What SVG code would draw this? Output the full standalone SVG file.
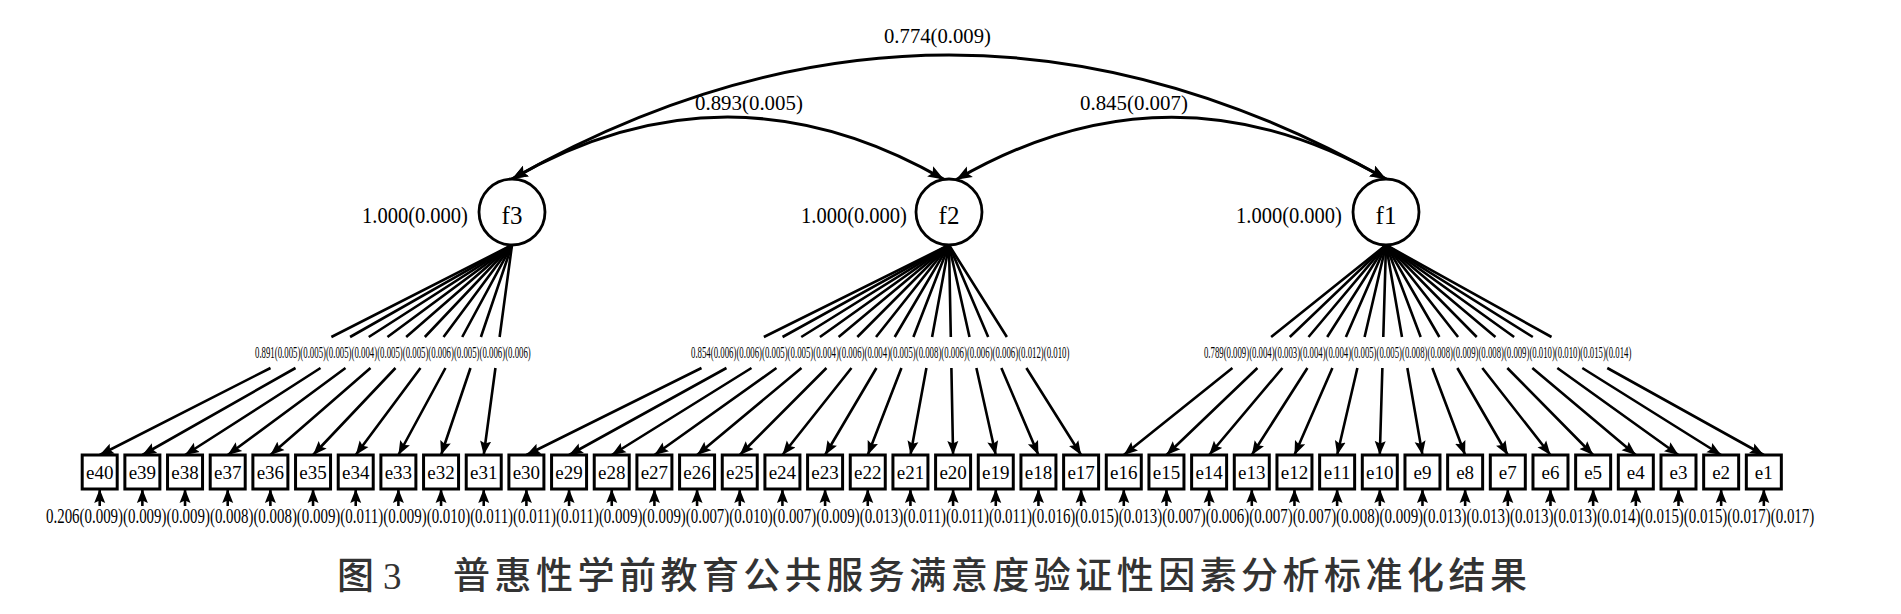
<svg xmlns="http://www.w3.org/2000/svg" width="1901" height="614" viewBox="0 0 1901 614">
<defs>
<style>
.t{font-family:"Liberation Serif","Times New Roman",serif;fill:#000}
.box{fill:#fff;stroke:#000;stroke-width:3}
.fac{fill:#fff;stroke:#000;stroke-width:2.8}
.ld{fill:none;stroke:#000;stroke-width:2.6;marker-end:url(#ah)}
.er{fill:none;stroke:#000;stroke-width:2.6;marker-end:url(#ah)}
.arc{fill:none;stroke:#000;stroke-width:3;marker-start:url(#ah2);marker-end:url(#ah2)}
.el{font-size:19px;text-anchor:middle}
.fl{font-size:25px;text-anchor:middle}
.vl{font-size:23px}
.cl{font-size:22px}
.ll{font-size:17px}
.bl{font-size:22px}
</style>
<marker id="ah" markerUnits="userSpaceOnUse" markerWidth="15" markerHeight="12" refX="14" refY="6" orient="auto">
<path d="M0,0.5 L14,6 L0,11.5 L2.5,6 z" fill="#000"/>
</marker>
<marker id="ah2" markerUnits="userSpaceOnUse" markerWidth="17" markerHeight="13" refX="16" refY="6.5" orient="auto-start-reverse">
<path d="M0,0.5 L16,6.5 L0,12.5 L3,6.5 z" fill="#000"/>
</marker>
</defs>
<rect width="1901" height="614" fill="#fff"/>

<g id="connectors">
<path class="arc" d="M512,179 Q949,-69 1386,179"/>
<path class="arc" d="M512,179 Q728,55 944,179.4"/>
<path class="arc" d="M956,179.8 Q1171,55 1386,179"/>
<text class="t cl" transform="translate(884,43) scale(0.941,1)">0.774(0.009)</text>
<text class="t cl" transform="translate(695,110) scale(0.95,1)">0.893(0.005)</text>
<text class="t cl" transform="translate(1080,110) scale(0.95,1)">0.845(0.007)</text>

<path class="ld" d="M512,245 L331.37,337 M270.52,368 L99.7,455"/>
<path class="ld" d="M512,245 L350.07,337 M295.51,368 L142.37,455"/>
<path class="ld" d="M512,245 L368.76,337 M320.5,368 L185.04,455"/>
<path class="ld" d="M512,245 L387.45,337 M345.49,368 L227.71,455"/>
<path class="ld" d="M512,245 L406.15,337 M370.48,368 L270.38,455"/>
<path class="ld" d="M512,245 L424.84,337 M395.48,368 L313.05,455"/>
<path class="ld" d="M512,245 L443.53,337 M420.47,368 L355.72,455"/>
<path class="ld" d="M512,245 L462.23,337 M445.46,368 L398.39,455"/>
<path class="ld" d="M512,245 L480.92,337 M470.45,368 L441.06,455"/>
<path class="ld" d="M512,245 L499.61,337 M495.44,368 L483.73,455"/>

<path class="ld" d="M949,245 L763.86,337 M701.49,368 L526.4,455"/>
<path class="ld" d="M949,245 L782.55,337 M726.48,368 L569.07,455"/>
<path class="ld" d="M949,245 L801.25,337 M751.47,368 L611.74,455"/>
<path class="ld" d="M949,245 L819.94,337 M776.46,368 L654.41,455"/>
<path class="ld" d="M949,245 L838.63,337 M801.45,368 L697.08,455"/>
<path class="ld" d="M949,245 L857.33,337 M826.45,368 L739.75,455"/>
<path class="ld" d="M949,245 L876.02,337 M851.44,368 L782.42,455"/>
<path class="ld" d="M949,245 L894.71,337 M876.43,368 L825.09,455"/>
<path class="ld" d="M949,245 L913.41,337 M901.42,368 L867.76,455"/>
<path class="ld" d="M949,245 L932.1,337 M926.41,368 L910.43,455"/>
<path class="ld" d="M949,245 L950.8,337 M951.4,368 L953.1,455"/>
<path class="ld" d="M949,245 L969.49,337 M976.39,368 L995.77,455"/>
<path class="ld" d="M949,245 L988.18,337 M1001.38,368 L1038.44,455"/>
<path class="ld" d="M949,245 L1006.88,337 M1026.38,368 L1081.11,455"/>

<path class="ld" d="M1386,245 L1271.12,337 M1232.42,368 L1123.78,455"/>
<path class="ld" d="M1386,245 L1289.81,337 M1257.41,368 L1166.45,455"/>
<path class="ld" d="M1386,245 L1308.51,337 M1282.4,368 L1209.12,455"/>
<path class="ld" d="M1386,245 L1327.2,337 M1307.39,368 L1251.79,455"/>
<path class="ld" d="M1386,245 L1345.9,337 M1332.39,368 L1294.46,455"/>
<path class="ld" d="M1386,245 L1364.59,337 M1357.38,368 L1337.13,455"/>
<path class="ld" d="M1386,245 L1383.28,337 M1382.37,368 L1379.8,455"/>
<path class="ld" d="M1386,245 L1401.98,337 M1407.36,368 L1422.47,455"/>
<path class="ld" d="M1386,245 L1420.67,337 M1432.35,368 L1465.14,455"/>
<path class="ld" d="M1386,245 L1439.37,337 M1457.34,368 L1507.81,455"/>
<path class="ld" d="M1386,245 L1458.06,337 M1482.33,368 L1550.48,455"/>
<path class="ld" d="M1386,245 L1476.75,337 M1507.33,368 L1593.15,455"/>
<path class="ld" d="M1386,245 L1495.45,337 M1532.32,368 L1635.82,455"/>
<path class="ld" d="M1386,245 L1514.14,337 M1557.31,368 L1678.49,455"/>
<path class="ld" d="M1386,245 L1532.83,337 M1582.3,368 L1721.16,455"/>
<path class="ld" d="M1386,245 L1551.53,337 M1607.29,368 L1763.83,455"/>

<text class="t ll" transform="translate(255,358) scale(0.517,1)">0.891(0.005)(0.005)(0.005)(0.004)(0.005)(0.005)(0.006)(0.005)(0.006)(0.006)</text>
<text class="t ll" transform="translate(691,358) scale(0.5175,1)">0.854(0.006)(0.006)(0.005)(0.005)(0.004)(0.006)(0.004)(0.005)(0.008)(0.006)(0.006)(0.006)(0.012)(0.010)</text>
<text class="t ll" transform="translate(1204,358) scale(0.5147,1)">0.789(0.009)(0.004)(0.003)(0.004)(0.004)(0.005)(0.005)(0.008)(0.008)(0.009)(0.008)(0.009)(0.010)(0.010)(0.015)(0.014)</text>

<path class="er" d="M99.7,506 V489"/>
<path class="er" d="M142.37,506 V489"/>
<path class="er" d="M185.04,506 V489"/>
<path class="er" d="M227.71,506 V489"/>
<path class="er" d="M270.38,506 V489"/>
<path class="er" d="M313.05,506 V489"/>
<path class="er" d="M355.72,506 V489"/>
<path class="er" d="M398.39,506 V489"/>
<path class="er" d="M441.06,506 V489"/>
<path class="er" d="M483.73,506 V489"/>
<path class="er" d="M526.4,506 V489"/>
<path class="er" d="M569.07,506 V489"/>
<path class="er" d="M611.74,506 V489"/>
<path class="er" d="M654.41,506 V489"/>
<path class="er" d="M697.08,506 V489"/>
<path class="er" d="M739.75,506 V489"/>
<path class="er" d="M782.42,506 V489"/>
<path class="er" d="M825.09,506 V489"/>
<path class="er" d="M867.76,506 V489"/>
<path class="er" d="M910.43,506 V489"/>
<path class="er" d="M953.1,506 V489"/>
<path class="er" d="M995.77,506 V489"/>
<path class="er" d="M1038.44,506 V489"/>
<path class="er" d="M1081.11,506 V489"/>
<path class="er" d="M1123.78,506 V489"/>
<path class="er" d="M1166.45,506 V489"/>
<path class="er" d="M1209.12,506 V489"/>
<path class="er" d="M1251.79,506 V489"/>
<path class="er" d="M1294.46,506 V489"/>
<path class="er" d="M1337.13,506 V489"/>
<path class="er" d="M1379.8,506 V489"/>
<path class="er" d="M1422.47,506 V489"/>
<path class="er" d="M1465.14,506 V489"/>
<path class="er" d="M1507.81,506 V489"/>
<path class="er" d="M1550.48,506 V489"/>
<path class="er" d="M1593.15,506 V489"/>
<path class="er" d="M1635.82,506 V489"/>
<path class="er" d="M1678.49,506 V489"/>
<path class="er" d="M1721.16,506 V489"/>
<path class="er" d="M1763.83,506 V489"/>
<text class="t bl" transform="translate(46,523) scale(0.678,1)">0.206(0.009)(0.009)(0.009)(0.008)(0.008)(0.009)(0.011)(0.009)(0.010)(0.011)(0.011)(0.011)(0.009)(0.009)(0.007)(0.010)(0.007)(0.009)(0.013)(0.011)(0.011)(0.011)(0.016)(0.015)(0.013)(0.007)(0.006)(0.007)(0.007)(0.008)(0.009)(0.013)(0.013)(0.013)(0.013)(0.014)(0.015)(0.015)(0.017)(0.017)</text>
</g>

<g id="f3"><circle class="fac" cx="512" cy="212" r="33"/><text class="t fl" x="512" y="224">f3</text><text class="t vl" transform="translate(362,223) scale(0.892,1)">1.000(0.000)</text></g>
<g id="f2"><circle class="fac" cx="949" cy="212" r="33"/><text class="t fl" x="949" y="224">f2</text><text class="t vl" transform="translate(801,223) scale(0.892,1)">1.000(0.000)</text></g>
<g id="f1"><circle class="fac" cx="1386" cy="212" r="33"/><text class="t fl" x="1386" y="224">f1</text><text class="t vl" transform="translate(1236,223) scale(0.892,1)">1.000(0.000)</text></g>

<g id="e40"><rect class="box" x="82.2" y="455" width="35" height="34"/><text class="t el" x="99.7" y="479">e40</text></g>
<g id="e39"><rect class="box" x="124.87" y="455" width="35" height="34"/><text class="t el" x="142.37" y="479">e39</text></g>
<g id="e38"><rect class="box" x="167.54" y="455" width="35" height="34"/><text class="t el" x="185.04" y="479">e38</text></g>
<g id="e37"><rect class="box" x="210.21" y="455" width="35" height="34"/><text class="t el" x="227.71" y="479">e37</text></g>
<g id="e36"><rect class="box" x="252.88" y="455" width="35" height="34"/><text class="t el" x="270.38" y="479">e36</text></g>
<g id="e35"><rect class="box" x="295.55" y="455" width="35" height="34"/><text class="t el" x="313.05" y="479">e35</text></g>
<g id="e34"><rect class="box" x="338.22" y="455" width="35" height="34"/><text class="t el" x="355.72" y="479">e34</text></g>
<g id="e33"><rect class="box" x="380.89" y="455" width="35" height="34"/><text class="t el" x="398.39" y="479">e33</text></g>
<g id="e32"><rect class="box" x="423.56" y="455" width="35" height="34"/><text class="t el" x="441.06" y="479">e32</text></g>
<g id="e31"><rect class="box" x="466.23" y="455" width="35" height="34"/><text class="t el" x="483.73" y="479">e31</text></g>
<g id="e30"><rect class="box" x="508.9" y="455" width="35" height="34"/><text class="t el" x="526.4" y="479">e30</text></g>
<g id="e29"><rect class="box" x="551.57" y="455" width="35" height="34"/><text class="t el" x="569.07" y="479">e29</text></g>
<g id="e28"><rect class="box" x="594.24" y="455" width="35" height="34"/><text class="t el" x="611.74" y="479">e28</text></g>
<g id="e27"><rect class="box" x="636.91" y="455" width="35" height="34"/><text class="t el" x="654.41" y="479">e27</text></g>
<g id="e26"><rect class="box" x="679.58" y="455" width="35" height="34"/><text class="t el" x="697.08" y="479">e26</text></g>
<g id="e25"><rect class="box" x="722.25" y="455" width="35" height="34"/><text class="t el" x="739.75" y="479">e25</text></g>
<g id="e24"><rect class="box" x="764.92" y="455" width="35" height="34"/><text class="t el" x="782.42" y="479">e24</text></g>
<g id="e23"><rect class="box" x="807.59" y="455" width="35" height="34"/><text class="t el" x="825.09" y="479">e23</text></g>
<g id="e22"><rect class="box" x="850.26" y="455" width="35" height="34"/><text class="t el" x="867.76" y="479">e22</text></g>
<g id="e21"><rect class="box" x="892.93" y="455" width="35" height="34"/><text class="t el" x="910.43" y="479">e21</text></g>
<g id="e20"><rect class="box" x="935.6" y="455" width="35" height="34"/><text class="t el" x="953.1" y="479">e20</text></g>
<g id="e19"><rect class="box" x="978.27" y="455" width="35" height="34"/><text class="t el" x="995.77" y="479">e19</text></g>
<g id="e18"><rect class="box" x="1020.94" y="455" width="35" height="34"/><text class="t el" x="1038.44" y="479">e18</text></g>
<g id="e17"><rect class="box" x="1063.61" y="455" width="35" height="34"/><text class="t el" x="1081.11" y="479">e17</text></g>
<g id="e16"><rect class="box" x="1106.28" y="455" width="35" height="34"/><text class="t el" x="1123.78" y="479">e16</text></g>
<g id="e15"><rect class="box" x="1148.95" y="455" width="35" height="34"/><text class="t el" x="1166.45" y="479">e15</text></g>
<g id="e14"><rect class="box" x="1191.62" y="455" width="35" height="34"/><text class="t el" x="1209.12" y="479">e14</text></g>
<g id="e13"><rect class="box" x="1234.29" y="455" width="35" height="34"/><text class="t el" x="1251.79" y="479">e13</text></g>
<g id="e12"><rect class="box" x="1276.96" y="455" width="35" height="34"/><text class="t el" x="1294.46" y="479">e12</text></g>
<g id="e11"><rect class="box" x="1319.63" y="455" width="35" height="34"/><text class="t el" x="1337.13" y="479">e11</text></g>
<g id="e10"><rect class="box" x="1362.3" y="455" width="35" height="34"/><text class="t el" x="1379.8" y="479">e10</text></g>
<g id="e9"><rect class="box" x="1404.97" y="455" width="35" height="34"/><text class="t el" x="1422.47" y="479">e9</text></g>
<g id="e8"><rect class="box" x="1447.64" y="455" width="35" height="34"/><text class="t el" x="1465.14" y="479">e8</text></g>
<g id="e7"><rect class="box" x="1490.31" y="455" width="35" height="34"/><text class="t el" x="1507.81" y="479">e7</text></g>
<g id="e6"><rect class="box" x="1532.98" y="455" width="35" height="34"/><text class="t el" x="1550.48" y="479">e6</text></g>
<g id="e5"><rect class="box" x="1575.65" y="455" width="35" height="34"/><text class="t el" x="1593.15" y="479">e5</text></g>
<g id="e4"><rect class="box" x="1618.32" y="455" width="35" height="34"/><text class="t el" x="1635.82" y="479">e4</text></g>
<g id="e3"><rect class="box" x="1660.99" y="455" width="35" height="34"/><text class="t el" x="1678.49" y="479">e3</text></g>
<g id="e2"><rect class="box" x="1703.66" y="455" width="35" height="34"/><text class="t el" x="1721.16" y="479">e2</text></g>
<g id="e1"><rect class="box" x="1746.33" y="455" width="35" height="34"/><text class="t el" x="1763.83" y="479">e1</text></g>

<g id="title" fill="#333">
<text x="337" y="589" font-family="'Noto Sans CJK SC',sans-serif" font-size="37" font-weight="500">图<tspan x="383" font-family="'Liberation Serif',serif" font-weight="400" font-size="37">3</tspan><tspan x="453" textLength="1074" lengthAdjust="spacing">普惠性学前教育公共服务满意度验证性因素分析标准化结果</tspan></text>
</g>
</svg>
